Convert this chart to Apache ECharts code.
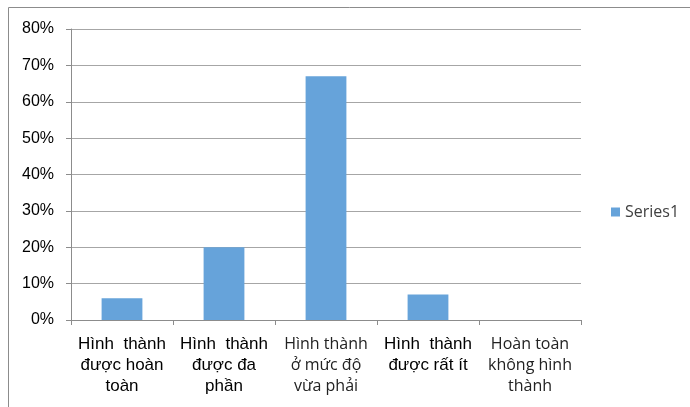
<!DOCTYPE html>
<html lang="vi">
<head>
    <meta charset="UTF-8">
    <title>Series1</title>
    <script src="https://cdn.jsdelivr.net/npm/echarts@6/dist/echarts.min.js"></script>
    <style>
        body { margin: 0; background: #fff; }
        #root { width: 690px; height: 407px; }
    </style>
</head>
<body>
    <div id="root"></div>
    <script>
        var categories = [
            'Hình  thành\nđược hoàn\ntoàn',
            'Hình  thành\nđược đa\nphần',
            'Hình thành\nở mức độ\nvừa phải',
            'Hình  thành\nđược rất ít',
            'Hoàn toàn\nkhông hình\nthành'
        ];
        // two label styles appear in the reference: large Arial-like and smaller light sans
        var labelBig = [true, true, false, true, false];
        var series1 = [6, 20, 67, 7, 0];
        var yTicks = [0, 10, 20, 30, 40, 50, 60, 70, 80];

        var font = 'Liberation Sans, Arial, sans-serif';
        var lightFont = '"Open Sans", sans-serif';
        var chart = echarts.init(document.getElementById('root'));

        chart.setOption({
            animation: false,
            graphic: [{
                type: 'rect',
                shape: { x: 8.5, y: 7.5, width: 700, height: 420 },
                style: { fill: 'none', stroke: '#8c8c8c', lineWidth: 1 }
            }],
            grid: { left: 71, top: 29, width: 510, bottom: 87 },
            legend: {
                left: 606, top: 199,
                icon: 'rect', itemWidth: 9, itemHeight: 9, itemGap: 6,
                textStyle: { fontFamily: lightFont, fontSize: 16, color: '#404040' },
                data: ['Series1']
            },
            xAxis: {
                type: 'category',
                data: categories.map(function (c, i) {
                    return {
                        value: c,
                        textStyle: labelBig[i]
                            ? { fontFamily: font, fontSize: 17, color: '#000' }
                            : { fontFamily: lightFont, fontSize: 16, color: '#222' }
                    };
                }),
                axisLine: { lineStyle: { color: '#8c8c8c' } },
                axisTick: { show: true, length: 5, lineStyle: { color: '#8c8c8c' } },
                axisLabel: {
                    interval: 0, margin: 14, lineHeight: 21
                }
            },
            yAxis: {
                type: 'value',
                min: yTicks[0], max: yTicks[yTicks.length - 1], interval: 10,
                axisLine: { show: true, lineStyle: { color: '#8c8c8c' } },
                axisTick: { show: true, length: 5, lineStyle: { color: '#8c8c8c' } },
                splitLine: { lineStyle: { color: '#a6a6a6' } },
                axisLabel: {
                    formatter: '{value}%', margin: 17, color: '#000',
                    fontFamily: font, fontSize: 16
                }
            },
            series: [{
                name: 'Series1',
                type: 'bar',
                data: series1,
                barCategoryGap: '60%',
                itemStyle: { color: '#66a3da' }
            }]
        });
    </script>
</body>
</html>
